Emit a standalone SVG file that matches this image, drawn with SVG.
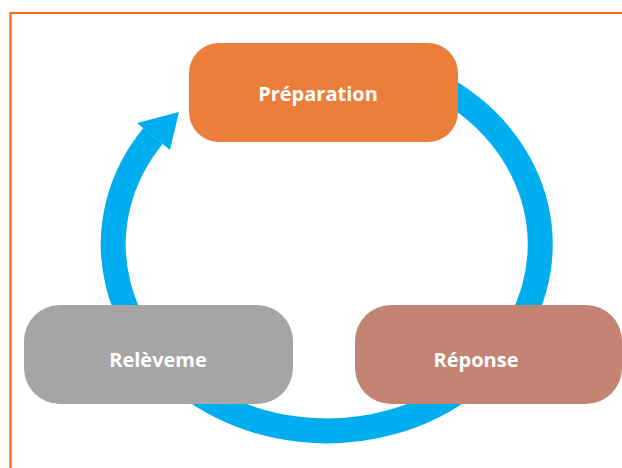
<svg xmlns="http://www.w3.org/2000/svg" width="622" height="468" viewBox="0 0 622 468">
<style>
.lbl{font-family:"Open Sans","Liberation Sans",sans-serif;font-weight:bold;font-size:20px;fill:#FFFFFF;text-anchor:middle}
.ring{fill:none;stroke:#00AEEF;stroke-width:25}
</style>
<rect width="622" height="468" fill="#FFFFFF"/>
<path d="M10.5 468 V13 H622" fill="none" stroke="#F26B21" stroke-width="2.2"/>
<g id="connectors">
<path class="ring" d="M396 68 A213.5 186.5 0 1 1 153 136"/>
<polygon points="137,123 179,112 170,150" fill="#00AEEF"/>
</g>
<g id="preparation">
<rect x="189" y="43" width="269" height="99" rx="30" fill="#EB7E3B"/>
<text class="lbl" x="318" y="101">Préparation</text>
</g>
<g id="releveme">
<rect x="24" y="305" width="269" height="99" rx="36" fill="#A5A5A5"/>
<text class="lbl" x="158" y="367">Relèveme</text>
</g>
<g id="reponse">
<rect x="355" y="305" width="267" height="99" rx="36" fill="#C48474"/>
<text class="lbl" x="476" y="367">Réponse</text>
</g>
</svg>
